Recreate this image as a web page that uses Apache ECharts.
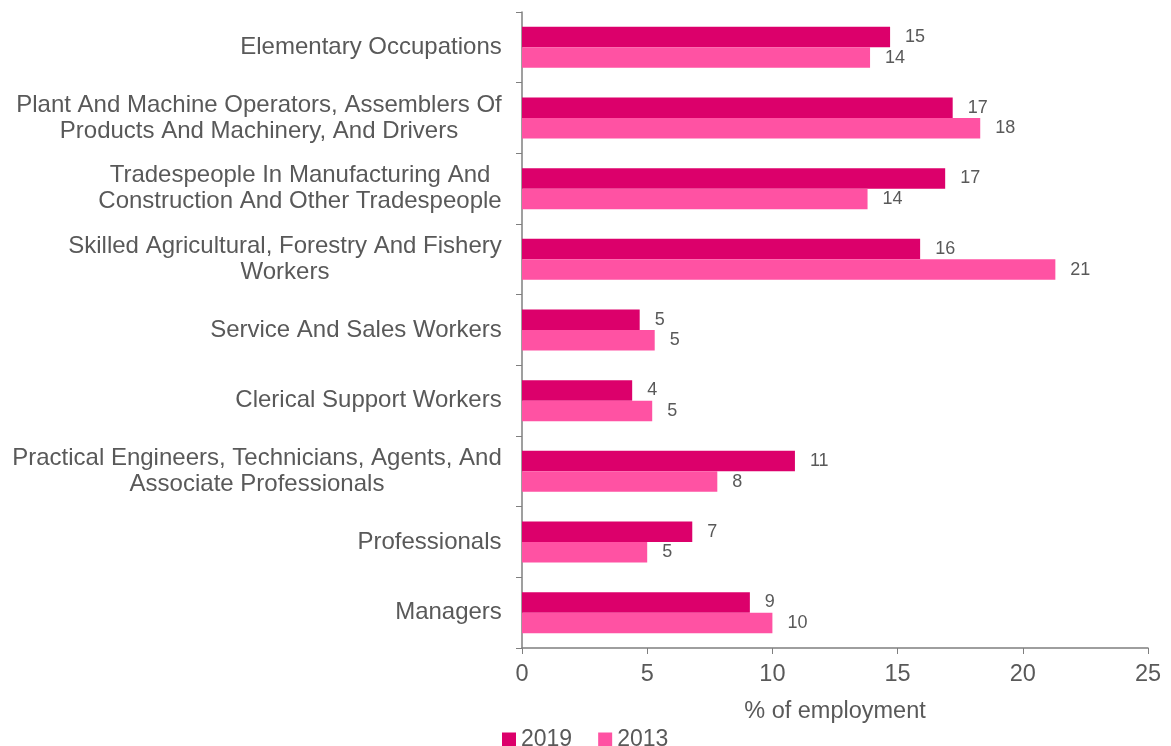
<!DOCTYPE html>
<html><head><meta charset="utf-8">
<script src="https://cdn.jsdelivr.net/npm/echarts@6/dist/echarts.min.js"></script>
<style>html,body{margin:0;padding:0;background:#fff}#c{width:1171px;height:746px}</style>
</head><body><div id="c"></div>
<script>
const categories = [
  "Elementary Occupations",
  "Plant And Machine Operators, Assemblers Of\nProducts And Machinery, And Drivers",
  "Tradespeople In Manufacturing And\nConstruction And Other Tradespeople",
  "Skilled Agricultural, Forestry And Fishery\nWorkers",
  "Service And Sales Workers",
  "Clerical Support Workers",
  "Practical Engineers, Technicians, Agents, And\nAssociate Professionals",
  "Professionals",
  "Managers"
];
const values2019 = [14.7, 17.2, 16.9, 15.9, 4.7, 4.4, 10.9, 6.8, 9.1];
const values2013 = [13.9, 18.3, 13.8, 21.3, 5.3, 5.2, 7.8, 5.0, 10.0];
const xTicks = [0, 5, 10, 15, 20, 25];

const textColor = '#595959';
const font = '"Liberation Sans", Arial, sans-serif';
const catFontSize = 24;

// multi-line category labels: lines centred within their block, block right-aligned
const ctx = document.createElement('canvas').getContext('2d');
ctx.font = catFontSize + 'px ' + font;
const rich = {};
categories.forEach((c, i) => {
  const w = Math.max(...c.split('\n').map(s => ctx.measureText(s).width));
  rich['c' + i] = {width: Math.ceil(w), align: 'center', color: textColor, fontSize: catFontSize,
    fontFamily: font, lineHeight: 26};
});
const catFormatter = (v, i) => v.split('\n').map(s => '{c' + i + '|' + s + '}').join('\n');

const chart = echarts.init(document.getElementById('c'));
const lbl = {show: true, position: 'right', distance: 15, color: textColor, fontSize: 18, fontFamily: font,
  formatter: p => Math.round(p.value)};
chart.setOption({
  animation: false,
  textStyle: {fontFamily: font},
  grid: {left: 522, right: 23, top: 12, bottom: 98, containLabel: false},
  legend: {left: 497, top: 723, itemWidth: 14, itemHeight: 14, itemGap: 26, itemTextGap: 4,
    textStyle: {color: textColor, fontSize: 23, fontFamily: font},
    data: ['2019', '2013'], icon: 'rect'},
  xAxis: {type: 'value', min: xTicks[0], max: xTicks[xTicks.length - 1], interval: 5,
    name: '% of employment', nameLocation: 'middle', nameGap: 52,
    nameTextStyle: {color: textColor, fontSize: 23.5, fontFamily: font},
    axisLine: {show: true, lineStyle: {color: '#7f7f7f', width: 1.5}},
    axisTick: {show: true, length: 6, lineStyle: {color: '#7f7f7f'}},
    axisLabel: {color: textColor, fontSize: 23.5, fontFamily: font, margin: 15},
    splitLine: {show: false}},
  yAxis: {type: 'category', inverse: true, data: categories,
    axisLine: {show: true, lineStyle: {color: '#7f7f7f', width: 1.5}},
    axisTick: {show: true, length: 6, lineStyle: {color: '#7f7f7f'}},
    axisLabel: {color: textColor, fontSize: catFontSize, fontFamily: font, margin: 20, lineHeight: 26,
      align: 'right', formatter: catFormatter, rich: rich}},
  series: [
    {name: '2019', type: 'bar', data: values2019, barGap: '0%', barCategoryGap: '42%',
      itemStyle: {color: '#dc006b'}, label: lbl},
    {name: '2013', type: 'bar', data: values2013, barGap: '0%', barCategoryGap: '42%',
      itemStyle: {color: '#ff52a3'}, label: lbl}
  ]
});
</script></body></html>
